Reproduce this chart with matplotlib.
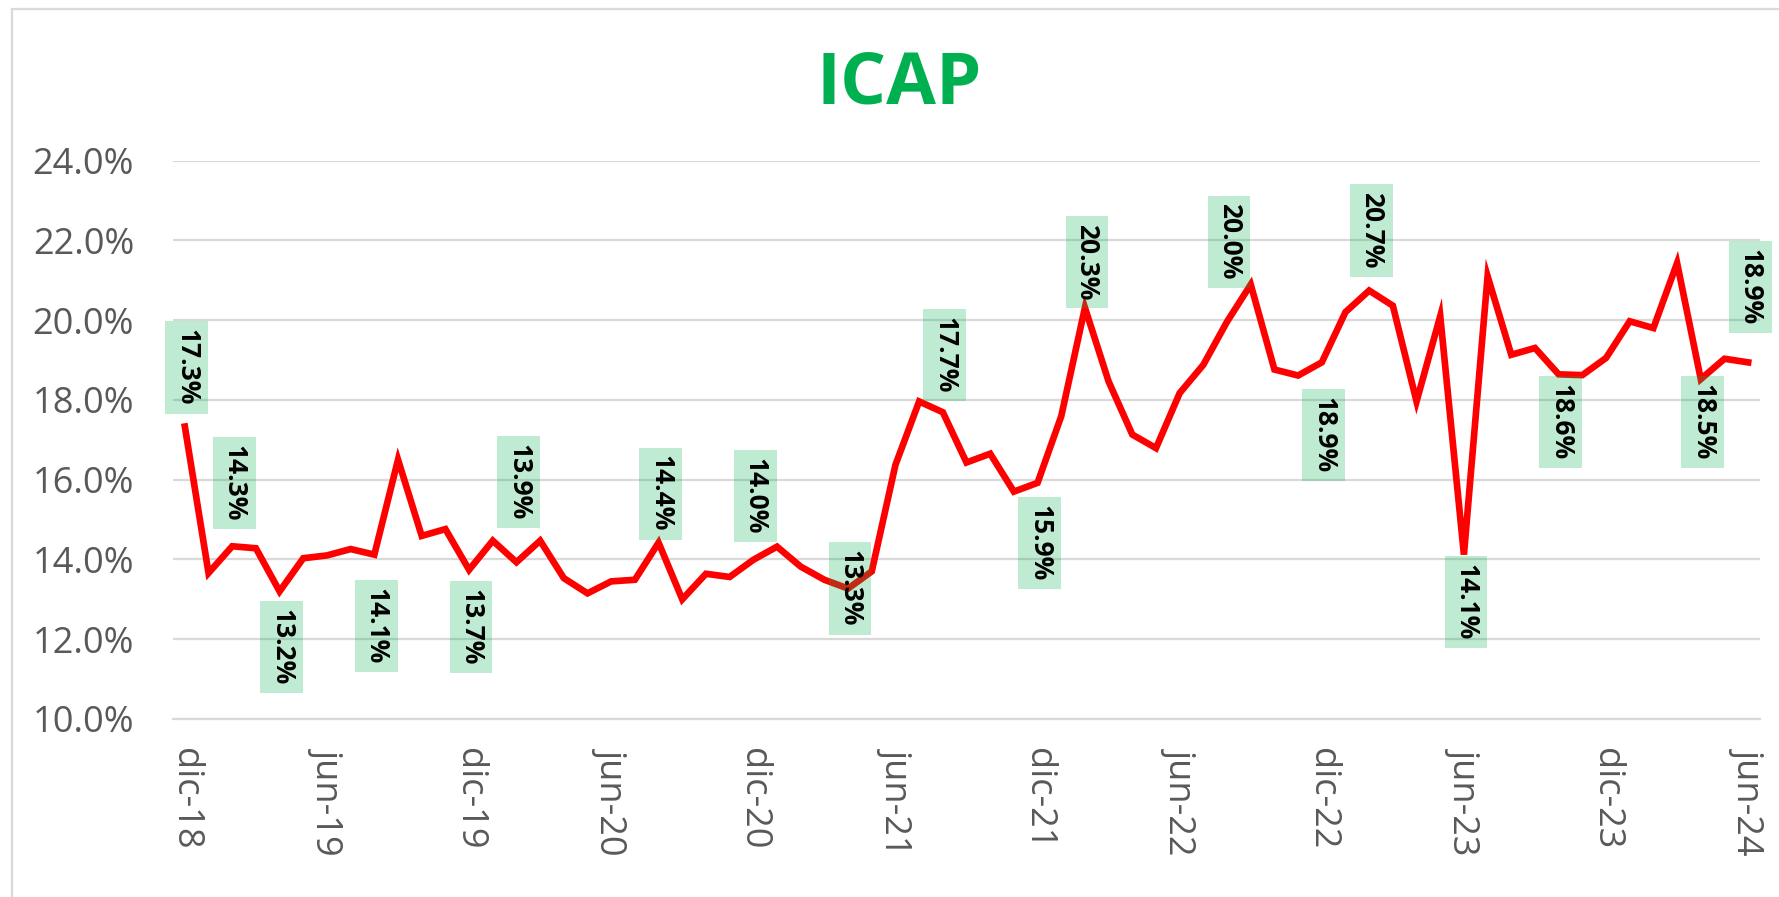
import matplotlib
matplotlib.use("Agg")
import matplotlib.pyplot as plt
from matplotlib.patches import Rectangle

# ICAP mensual, dic-18 a jun-24 (%)
icap = [17.33, 13.66, 14.33, 14.28, 13.20, 14.03, 14.10, 14.26, 14.12, 16.50,
        14.59, 14.76, 13.74, 14.47, 13.93, 14.47, 13.53, 13.15, 13.45, 13.49,
        14.42, 13.00, 13.64, 13.56, 13.99, 14.32, 13.82, 13.49, 13.27, 13.70,
        16.37, 17.96, 17.69, 16.43, 16.65, 15.70, 15.92, 17.59, 20.31, 18.46,
        17.13, 16.79, 18.17, 18.88, 19.96, 20.89, 18.76, 18.61, 18.94, 20.20,
        20.74, 20.36, 17.96, 20.10, 14.12, 21.10, 19.13, 19.30, 18.64, 18.62,
        19.05, 19.97, 19.80, 21.43, 18.52, 19.03, 18.94]

tick_labels = ['dic-18', 'jun-19', 'dic-19', 'jun-20', 'dic-20', 'jun-21',
               'dic-21', 'jun-22', 'dic-22', 'jun-23', 'dic-23', 'jun-24']

# puntos con etiqueta de dato
label_idx = [0, 2, 4, 8, 12, 14, 20, 24, 28, 32, 36, 38, 44, 48, 50, 54, 58, 64, 66]
# desplazamiento vertical de la etiqueta en pixeles (+ arriba, - abajo)
label_shift = [59, 63, -56, -71, -57, 80, 49, 64, 0, 57, -60, 46, 80, -73, 60, -47, -48, -43, 75]

GREEN = '#00B050'
GREY = '#595959'
FONT = 'Open Sans'

fig = plt.figure(figsize=(17.79, 8.97), dpi=100)
ax = fig.add_axes([173 / 1779, 1 - 719 / 897, (1760 - 173) / 1779, (719 - 160.5) / 897])

x = list(range(len(icap)))
ax.plot(x, icap, color='#FF0000', lw=4.8, solid_joinstyle='miter', zorder=2)

for i, dy in zip(label_idx, label_shift):
    ax.annotate(f"{icap[i]:.1f}%", (i, icap[i]), xytext=(2, dy), textcoords='offset pixels',
                rotation=270, ha='center', va='center', fontsize=19, fontweight='bold',
                family=FONT, color='black', zorder=3,
                bbox=dict(boxstyle='square,pad=0.3', fc=(0, 0.69, 0.31, 0.25), ec='none'))

ax.set_xlim(-0.5, len(icap) - 0.5)
ax.set_ylim(10, 24)
ax.set_yticks(range(10, 25, 2))
ax.set_yticklabels([f"{v:.1f}%" for v in range(10, 25, 2)], family=FONT, fontsize=26, color=GREY)
ax.set_xticks(range(0, len(icap), 6))
ax.set_xticklabels(tick_labels, rotation=270, family=FONT, fontsize=26, color=GREY,
                   ha='center', va='top')
ax.tick_params(axis='y', length=0, pad=28)
ax.tick_params(axis='x', length=0, pad=21)

ax.yaxis.grid(True, color='#D9D9D9', lw=1.6)
ax.set_axisbelow(True)
for s in ['top', 'right', 'left']:
    ax.spines[s].set_visible(False)
ax.spines['bottom'].set_color('#D9D9D9')
ax.spines['bottom'].set_linewidth(1.6)

fig.text(899 / 1779, 1 - 85 / 897, 'ICAP', ha='center', va='center', fontsize=52,
         fontweight='bold', color=GREEN, family=FONT)

# borde del grafico
fig.patches.append(Rectangle((12 / 1779, -0.1), 1.2, 1.1 - 9 / 897, transform=fig.transFigure,
                             fill=False, ec='#D9D9D9', lw=1.6, figure=fig))

fig.savefig('out.png', dpi=100)
